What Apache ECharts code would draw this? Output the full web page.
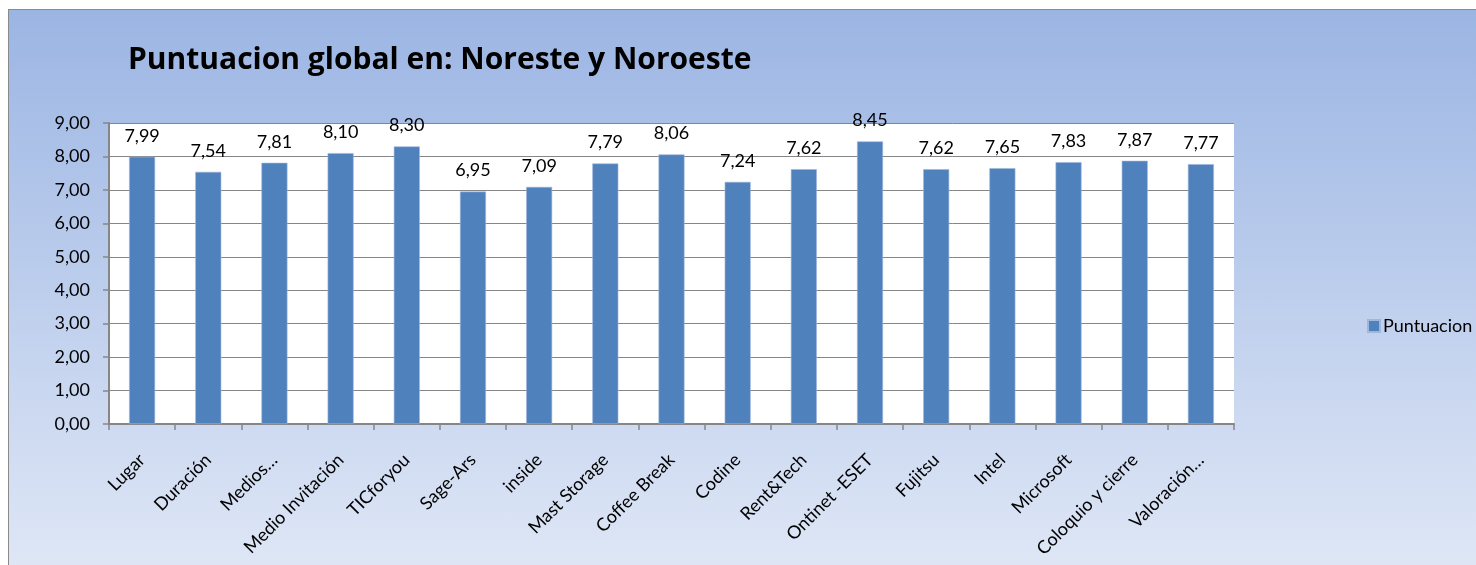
<!DOCTYPE html>
<html>
<head>
<meta charset="utf-8">
<script src="https://cdn.jsdelivr.net/npm/echarts@6/dist/echarts.min.js"></script>
<style>
  html, body { margin: 0; padding: 0; background: #fff; overflow: hidden; }
  #bg {
    position: absolute; left: 8px; top: 9px; width: 1480px; height: 560px;
    border-left: 1px solid #8a8a8a; border-top: 1px solid #8a8a8a;
    background: linear-gradient(#9bb5e3, #dfe7f6);
  }
  #chart { position: absolute; left: 0; top: 0; width: 1476px; height: 565px; }
</style>
</head>
<body>
<div id="bg"></div>
<div id="chart"></div>
<script>
// categorias y puntuaciones
var categories = ['Lugar', 'Duración', 'Medios…', 'Medio Invitación', 'TICforyou', 'Sage-Ars', 'inside',
  'Mast Storage', 'Coffee Break', 'Codine', 'Rent&Tech', 'Ontinet -ESET', 'Fujitsu', 'Intel',
  'Microsoft', 'Coloquio y cierre', 'Valoración…'];
var puntuacion = [7.99, 7.54, 7.81, 8.10, 8.30, 6.95, 7.09, 7.79, 8.06, 7.24, 7.62, 8.45, 7.62, 7.65, 7.83, 7.87, 7.77];
var yTicks = { min: 0, max: 9, interval: 1 };

function fmt(v) { return Number(v).toFixed(2).replace('.', ','); }

var font = 'Lato, "Liberation Sans", sans-serif';
var grey = '#868686';

var chart = echarts.init(document.getElementById('chart'));
chart.setOption({
  animation: false,
  textStyle: { fontFamily: font },
  title: {
    text: 'Puntuacion global en: Noreste y Noroeste',
    left: 123, top: 40,
    textStyle: { fontFamily: '"Open Sans", sans-serif', fontWeight: 'bold', fontSize: 30, color: '#000' }
  },
  legend: {
    left: 1362, top: 312,
    itemWidth: 12, itemHeight: 12, itemGap: 5,
    icon: 'rect',
    textStyle: { fontFamily: font, fontSize: 18, color: '#000', padding: [0, 0, 0, -2] },
    data: ['Puntuacion']
  },
  grid: {
    left: 109, top: 123, width: 1125, height: 301,
    show: true, backgroundColor: '#fff', borderWidth: 0
  },
  xAxis: {
    type: 'category',
    data: categories,
    axisLine: { lineStyle: { color: grey, width: 2 } },
    axisTick: { show: true, length: 6, lineStyle: { color: grey, width: 1.5 } },
    axisLabel: {
      interval: 0, rotate: 45, margin: 33,
      fontFamily: font, fontSize: 18, color: '#000'
    }
  },
  yAxis: {
    type: 'value',
    min: yTicks.min, max: yTicks.max, interval: yTicks.interval,
    axisLine: { show: true, lineStyle: { color: grey, width: 2 } },
    axisTick: { show: true, length: 6, lineStyle: { color: grey, width: 1.5 } },
    splitLine: { lineStyle: { color: grey, width: 1 } },
    axisLabel: { formatter: fmt, margin: 19, fontFamily: font, fontSize: 18, color: '#000' }
  },
  series: [{
    name: 'Puntuacion',
    type: 'bar',
    data: puntuacion,
    barWidth: 26,
    itemStyle: { color: '#4f81bd', borderColor: '#9fb7dc', borderWidth: 0.6 },
    label: {
      show: true, position: 'top', distance: 12,
      formatter: function (p) { return fmt(p.value); },
      fontFamily: font, fontSize: 18, color: '#000'
    }
  }]
});
</script>
</body>
</html>
